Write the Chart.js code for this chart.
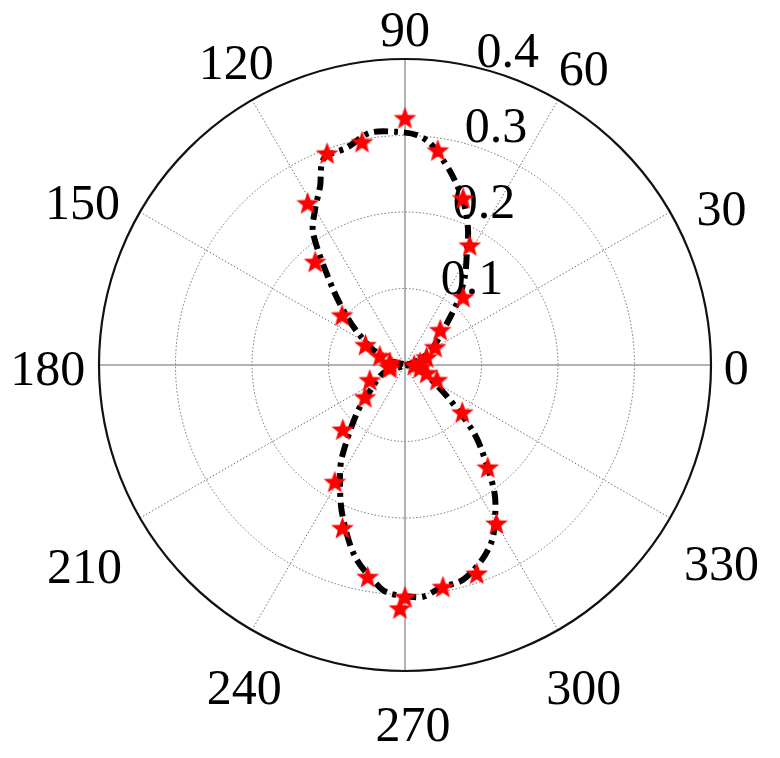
<!DOCTYPE html>
<html>
<head>
<meta charset="utf-8">
<script src="https://cdn.jsdelivr.net/npm/chart.js@4.4.1/dist/chart.umd.min.js"></script>
<style>
  html, body { margin: 0; padding: 0; background: #ffffff; }
  #wrap { width: 780px; height: 758px; }
</style>
</head>
<body>
<div id="wrap"><canvas id="c" width="780" height="758"></canvas></div>
<script>
// ---- data (angles in degrees, radii in chart units) ----
const starAngles = [90, 81.3, 70.8, 61.6, 49.5, 45, 31,
                    100.9, 110.2, 121, 131, 141.6, 153,
                    0, 10, 20, 160, 170, 180, 190, 340, 350,
                    203, 218.7, 226, 239, 249, 260, 268.8, 270, 279.7, 289, 300, 309, 320.5, 335];
const starRadii  = [0.323, 0.284, 0.231, 0.178, 0.117, 0.065, 0.046,
                    0.297, 0.295, 0.247, 0.179, 0.105, 0.058,
                    0.012, 0.02, 0.03, 0.035, 0.02, 0.02, 0.02, 0.03, 0.02,
                    0.05, 0.067, 0.117, 0.178, 0.228, 0.281, 0.318, 0.303, 0.294, 0.288, 0.239, 0.172, 0.097, 0.046];

const lineAngles = [0, 15, 25, 33, 40, 45, 50, 56, 61.7, 65, 70, 75.7, 80, 83.6, 87, 92, 98.6, 105, 111.5, 115.5, 120, 124.9, 133, 140, 145.8, 155, 165, 180,
                    200, 214.9, 225, 235.6, 240, 246.9, 255.4, 263.6, 266, 270, 274.4, 279, 285, 291.5, 296.4, 300, 305, 312, 316, 323, 335, 350, 360];
const lineRadii  = [0, 0.012, 0.03, 0.045, 0.06, 0.078, 0.106, 0.14, 0.171, 0.195, 0.225, 0.254, 0.275, 0.292, 0.301, 0.305, 0.307, 0.294, 0.29, 0.258, 0.235, 0.21, 0.14, 0.1, 0.074, 0.045, 0.02, 0,
                    0.03, 0.053, 0.089, 0.146, 0.17, 0.21, 0.259, 0.293, 0.299, 0.302, 0.304, 0.295, 0.291, 0.274, 0.256, 0.235, 0.204, 0.15, 0.122, 0.07, 0.03, 0.01, 0];

const ringValues = [0.1, 0.2, 0.3];
const outerValue = 0.4;
const radialTickLabels = ['0.1', '0.2', '0.3', '0.4'];
const spokeAngles = [0, 30, 60, 90, 120, 150, 180, 210, 240, 270, 300, 330];
const angleTickLabels = ['0', '30', '60', '90', '120', '150', '180', '210', '240', '270', '300', '330'];

// ---- styling: small pixel nudges for the angle labels ----
const labelNudge = [[-26, -10], [7, 10], [0, 0], [0, 9], [10, -6], [-13, 4], [0, -9], [-11, 10], [18, 0], [8, -10], [0, 0], [7, 7]];

// ---- helpers ----
const toRad = d => d * Math.PI / 180;
function polarToXY(angles, radii) {
  return angles.map((a, i) => ({ x: radii[i] * Math.cos(toRad(a)), y: radii[i] * Math.sin(toRad(a)) }));
}
function makeStar(size, color) {
  const c = document.createElement('canvas');
  c.width = size; c.height = size;
  const ctx = c.getContext('2d');
  const cx = size / 2, cy = size / 2 + 1, R = size / 2 - 0.5, r = R * 0.42;
  ctx.fillStyle = color;
  ctx.beginPath();
  for (let i = 0; i < 10; i++) {
    const a = -Math.PI / 2 + i * Math.PI / 5;
    const rr = (i % 2) ? r : R;
    ctx.lineTo(cx + rr * Math.cos(a), cy + rr * Math.sin(a));
  }
  ctx.closePath();
  ctx.fill();
  return c;
}
const starImg = makeStar(25, '#ff0000');

const FONT = '50px "Liberation Serif", "Times New Roman", serif';

const polarGrid = {
  id: 'polarGrid',
  beforeDatasetsDraw(chart) {
    const ctx = chart.ctx;
    const xs = chart.scales.x, ys = chart.scales.y;
    const cx = xs.getPixelForValue(0), cy = ys.getPixelForValue(0);
    const unit = xs.getPixelForValue(1) - cx;
    const P = (r, a) => [xs.getPixelForValue(r * Math.cos(toRad(a))), ys.getPixelForValue(r * Math.sin(toRad(a)))];
    ctx.save();
    // rings (dotted)
    ctx.strokeStyle = '#6e6e6e';
    ctx.lineWidth = 1;
    ctx.setLineDash([1.5, 2]);
    ringValues.forEach(v => {
      ctx.beginPath();
      ctx.arc(cx, cy, v * unit, 0, Math.PI * 2);
      ctx.stroke();
    });
    // spokes
    spokeAngles.forEach(a => {
      const solid = (a % 90 === 0);
      ctx.setLineDash(solid ? [] : [1.5, 2]);
      ctx.strokeStyle = solid ? '#999999' : '#6e6e6e';
      ctx.lineWidth = solid ? 1.5 : 1;
      const [x1, y1] = P(outerValue, a);
      ctx.beginPath();
      ctx.moveTo(cx, cy);
      ctx.lineTo(x1, y1);
      ctx.stroke();
    });
    // outer circle
    ctx.setLineDash([]);
    ctx.strokeStyle = '#111';
    ctx.lineWidth = 2.2;
    ctx.beginPath();
    ctx.arc(cx, cy, outerValue * unit, 0, Math.PI * 2);
    ctx.stroke();
    // angle labels
    ctx.fillStyle = '#000';
    ctx.font = FONT;
    ctx.textAlign = 'center';
    ctx.textBaseline = 'middle';
    spokeAngles.forEach((a, i) => {
      const [x, y] = P(0.467, a);
      ctx.fillText(angleTickLabels[i], x + labelNudge[i][0], y + 16 + labelNudge[i][1]);
    });
    // radial labels
    [...ringValues, outerValue].forEach((v, i) => {
      const [x, y] = P(v, 81);
      ctx.fillText(radialTickLabels[i], x + 55, y - 9);
    });
    ctx.restore();
  }
};

new Chart(document.getElementById('c'), {
  type: 'scatter',
  data: {
    datasets: [
      {
        data: polarToXY(lineAngles, lineRadii),
        showLine: true,
        borderColor: '#000',
        borderWidth: 6,
        borderDash: [14, 6, 4, 6],
        tension: 0.3,
        pointRadius: 0,
        fill: false,
        order: 2
      },
      {
        data: polarToXY(starAngles, starRadii),
        showLine: false,
        pointStyle: starImg,
        pointRadius: 12,
        order: 1
      }
    ]
  },
  options: {
    responsive: false,
    animation: false,
    devicePixelRatio: 1,
    layout: { padding: { left: 99, right: 69, top: 59, bottom: 87 } },
    scales: {
      x: { type: 'linear', min: -0.4, max: 0.4, display: false },
      y: { type: 'linear', min: -0.4, max: 0.4, display: false }
    },
    plugins: { legend: { display: false }, tooltip: { enabled: false } }
  },
  plugins: [polarGrid]
});
</script>
</body>
</html>
